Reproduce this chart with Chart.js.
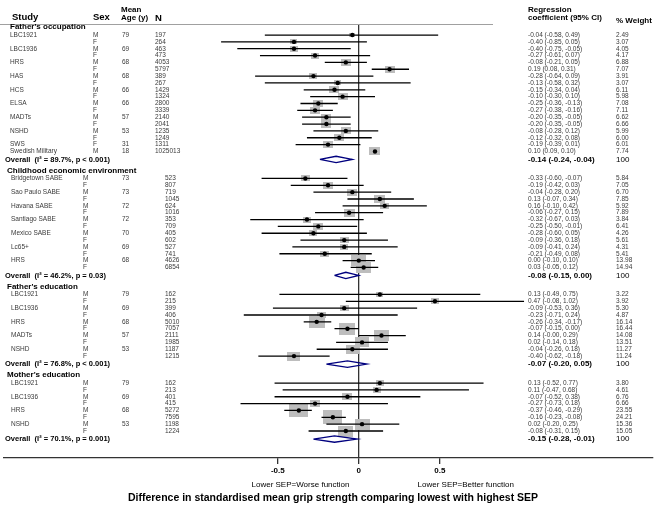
<!DOCTYPE html>
<html lang="en">
<head>
<meta charset="UTF-8" />
<title>Grip strength and childhood SEP</title>
<script src="https://cdn.jsdelivr.net/npm/chart.js"></script>
<style>
  body { margin: 0; background: #fff; }
  #wrap { width: 661px; height: 507px; }
</style>
</head>
<body>
<div id="wrap"><canvas id="forest" width="661" height="507"></canvas></div>
<script>
// subgroups
const groupTitles = ["Father's occupation", "Childhood economic environment", "Father's education", "Mother's education"];
const groupSizes = [18, 14, 10, 8];
const overallLabels = [
  'Overall  (I\u00b2 = 89.7%, p < 0.001)',
  'Overall  (I\u00b2 = 46.2%, p = 0.03)',
  'Overall  (I\u00b2 = 76.8%, p < 0.001)',
  'Overall  (I\u00b2 = 70.1%, p = 0.001)'
];
const overallEst = [-0.14, -0.08, -0.07, -0.15];
const overallLo = [-0.24, -0.15, -0.20, -0.28];
const overallHi = [-0.04, 0.00, 0.05, -0.01];

// study rows, in order
const studies = [
  'LBC1921', '', 'LBC1936', '', 'HRS', '', 'HAS', '', 'HCS', '', 'ELSA', '', 'MADTs', '', 'NSHD', '', 'SWS', 'Swedish Military',
  'Bridgetown SABE', '', 'Sao Paulo SABE', '', 'Havana SABE', '', 'Santiago SABE', '', 'Mexico SABE', '', 'Lc65+', '', 'HRS', '',
  'LBC1921', '', 'LBC1936', '', 'HRS', '', 'MADTs', '', 'NSHD', '',
  'LBC1921', '', 'LBC1936', '', 'HRS', '', 'NSHD', ''
];
const sexes = [
  'M','F','M','F','M','F','M','F','M','F','M','F','M','F','M','F','F','M',
  'M','F','M','F','M','F','M','F','M','F','M','F','M','F',
  'M','F','M','F','M','F','M','F','M','F',
  'M','F','M','F','M','F','M','F'
];
const ages = [
  '79','','69','','68','','68','','66','','66','','57','','53','','31','18',
  '73','','73','','72','','72','','70','','69','','68','',
  '79','','69','','68','','57','','53','',
  '79','','69','','68','','53',''
];
const ns = [
  197, 264, 463, 473, 4053, 5797, 389, 267, 1429, 1324, 2800, 3339, 2140, 2041, 1235, 1249, 1311, 1025013,
  523, 807, 719, 1045, 624, 1016, 353, 709, 405, 602, 527, 741, 4626, 6854,
  162, 215, 399, 406, 5010, 7057, 2111, 1985, 1187, 1215,
  162, 213, 401, 415, 5272, 7595, 1198, 1224
];
const estimates = [
  -0.04, -0.40, -0.40, -0.27, -0.08, 0.19, -0.28, -0.13, -0.15, -0.10, -0.25, -0.27, -0.20, -0.20, -0.08, -0.12, -0.19, 0.10,
  -0.33, -0.19, -0.04, 0.13, 0.16, -0.06, -0.32, -0.25, -0.28, -0.09, -0.09, -0.21, 0.00, 0.03,
  0.13, 0.47, -0.09, -0.23, -0.26, -0.07, 0.14, 0.02, -0.04, -0.40,
  0.13, 0.11, -0.07, -0.27, -0.37, -0.16, 0.02, -0.08
];
const lowers = [
  -0.58, -0.85, -0.75, -0.61, -0.21, 0.08, -0.64, -0.58, -0.34, -0.30, -0.36, -0.38, -0.35, -0.35, -0.28, -0.32, -0.39, 0.09,
  -0.60, -0.42, -0.28, -0.07, -0.10, -0.27, -0.67, -0.50, -0.60, -0.36, -0.41, -0.49, -0.10, -0.05,
  -0.49, -0.08, -0.53, -0.71, -0.34, -0.15, -0.00, -0.14, -0.26, -0.62,
  -0.52, -0.47, -0.52, -0.73, -0.46, -0.23, -0.20, -0.31
];
const uppers = [
  0.49, 0.05, -0.05, 0.07, 0.05, 0.31, 0.09, 0.32, 0.04, 0.10, -0.13, -0.16, -0.05, -0.05, 0.12, 0.08, 0.01, 0.10,
  -0.07, 0.03, 0.20, 0.34, 0.42, 0.15, 0.03, -0.01, 0.05, 0.18, 0.24, 0.08, 0.10, 0.12,
  0.75, 1.02, 0.36, 0.24, -0.17, 0.00, 0.29, 0.18, 0.18, -0.18,
  0.77, 0.68, 0.38, 0.18, -0.29, -0.08, 0.25, 0.15
];
const weights = [
  2.49, 3.07, 4.05, 4.17, 6.88, 7.07, 3.91, 3.07, 6.11, 5.98, 7.08, 7.11, 6.62, 6.66, 5.99, 6.00, 6.01, 7.74,
  5.84, 7.05, 6.70, 7.85, 5.92, 7.89, 3.84, 6.41, 4.26, 5.61, 4.31, 5.41, 13.98, 14.94,
  3.22, 3.92, 5.30, 4.87, 16.14, 16.44, 14.08, 13.51, 11.27, 11.24,
  3.80, 4.61, 6.76, 6.66, 23.55, 24.21, 15.36, 15.05
];

const xTicks = [-0.5, 0, 0.5];
const xTickLabels = ['-0.5', '0', '0.5'];
const sideLabels = ['Lower SEP=Worse function', 'Lower SEP=Better function'];
const axisTitle = 'Difference in standardised mean grip strength comparing lowest with highest SEP';

const FONT = '"Liberation Sans", Arial, sans-serif';

// row slots (one unit per study row, gaps between subgroups)
const rowSlot = [], rowGroup = [], headerSlot = [], overallSlot = [];
let cursor = 0;
groupSizes.forEach((n, gi) => {
  headerSlot.push(cursor - 1.15);
  for (let i = 0; i < n; i++) { rowSlot.push(cursor + i); rowGroup.push(gi); }
  const last = cursor + n - 1;
  overallSlot.push(last + 1.17);
  cursor = last + 3.94;
});

const fmt = v => (v < 0 || Object.is(v, -0)) ? '-' + Math.abs(v).toFixed(2) : v.toFixed(2);
const ciText = (e, l, h) => fmt(e) + ' (' + fmt(l) + ', ' + fmt(h) + ')';

const pointData = estimates.map((e, i) => ({ x: e, y: rowSlot[i] }));
const ciData = [];
estimates.forEach((e, i) => {
  ciData.push({ x: lowers[i], y: rowSlot[i] }, { x: uppers[i], y: rowSlot[i] }, { x: null, y: null });
});
const diamondData = [];
overallEst.forEach((e, gi) => {
  const s = overallSlot[gi];
  diamondData.push(
    { x: overallLo[gi], y: s }, { x: e, y: s - 0.47 }, { x: overallHi[gi], y: s },
    { x: e, y: s + 0.47 }, { x: overallLo[gi], y: s }, { x: null, y: null }
  );
});

// grey weight boxes, area ~ weight
const boxes = weights.map(w => {
  const c = document.createElement('canvas');
  c.width = Math.max(3, Math.round(3.9 * Math.sqrt(w)));
  c.height = Math.max(3, Math.round(0.72 * c.width));
  const g = c.getContext('2d');
  g.fillStyle = '#bdbdbd';
  g.fillRect(0, 0, c.width, c.height);
  return c;
});

const textPlugin = {
  id: 'forestText',
  afterDraw(chart) {
    const { ctx, chartArea, scales: { x, y } } = chart;
    const py = v => y.getPixelForValue(v);
    ctx.save();
    ctx.strokeStyle = '#a0a0a0';
    ctx.lineWidth = 1;
    ctx.beginPath();
    ctx.moveTo(0, chartArea.top + 0.5);
    ctx.lineTo(493, chartArea.top + 0.5);
    ctx.stroke();

    ctx.textBaseline = 'middle';
    ctx.textAlign = 'left';
    ctx.fillStyle = '#000';
    ctx.font = 'bold 9.5px ' + FONT;
    ctx.fillText('Study', 12, 17.5);
    ctx.fillText('Sex', 93, 17.5);
    ctx.fillText('N', 155, 18.5);
    ctx.font = 'bold 8px ' + FONT;
    ctx.fillText('Mean', 121, 10);
    ctx.fillText('Age (y)', 121, 17.5);
    ctx.fillText('Regression', 528, 9.5);
    ctx.fillText('coefficient (95% CI)', 528, 17.5);
    ctx.fillText('% Weight', 616, 21);

    groupTitles.forEach((t, gi) => {
      ctx.fillStyle = '#000';
      ctx.font = 'bold 8px ' + FONT;
      ctx.fillText(t, gi === 0 ? 10 : 7, py(headerSlot[gi]));
      const oy = py(overallSlot[gi]);
      ctx.font = 'bold 7.5px ' + FONT;
      ctx.fillText(overallLabels[gi], 5, oy);
      ctx.font = 'bold 8px ' + FONT;
      ctx.fillText(ciText(overallEst[gi], overallLo[gi], overallHi[gi]), 528, oy);
      ctx.font = '8px ' + FONT;
      ctx.fillText('100', 616, oy);
    });

    ctx.font = '6.5px ' + FONT;
    ctx.fillStyle = '#3a3a3a';
    rowSlot.forEach((s, i) => {
      const ry = py(s);
      const g0 = rowGroup[i] === 0;
      ctx.fillText(studies[i], g0 ? 10 : 11, ry);
      ctx.fillText(sexes[i], g0 ? 93 : 83, ry);
      ctx.fillText(ages[i], 122, ry);
      ctx.fillText(String(ns[i]), g0 ? 155 : 165, ry);
      ctx.fillText(ciText(estimates[i], lowers[i], uppers[i]), 528, ry);
      ctx.fillText(weights[i].toFixed(2), 616, ry);
    });

    ctx.textAlign = 'center';
    ctx.fillStyle = '#000';
    ctx.font = '8px ' + FONT;
    ctx.fillText(sideLabels[0], x.getPixelForValue(-0.36), chartArea.bottom + 27);
    ctx.fillText(sideLabels[1], x.getPixelForValue(0.66), chartArea.bottom + 27);
    ctx.font = 'bold 10.5px ' + FONT;
    ctx.fillText(axisTitle, 333, chartArea.bottom + 40);
    ctx.restore();
  }
};

new Chart(document.getElementById('forest'), {
  type: 'scatter',
  data: {
    datasets: [
      { label: 'estimate', data: pointData, pointRadius: 2.2, pointHoverRadius: 2.2, backgroundColor: '#000', borderWidth: 0 },
      { label: 'ci', data: ciData, showLine: true, spanGaps: false, borderColor: '#000', borderWidth: 1.3, pointRadius: 0 },
      { label: 'overall', data: diamondData, showLine: true, spanGaps: false, borderColor: '#00007f', borderWidth: 1.3, pointRadius: 0 },
      { label: 'weight', data: pointData, pointStyle: ctx => boxes[ctx.dataIndex], pointRadius: 3, borderWidth: 0 }
    ]
  },
  options: {
    responsive: false,
    animation: false,
    layout: { padding: { top: 24, left: 0, right: 8, bottom: 0 } },
    plugins: { legend: { display: false }, tooltip: { enabled: false } },
    scales: {
      x: {
        type: 'linear',
        min: -2.19,
        max: 1.816,
        afterBuildTicks: s => { s.ticks = xTicks.map(v => ({ value: v })); },
        afterFit: s => { s.height = 49; },
        grid: {
          color: c => (c.tick && c.tick.value === 0) ? '#333' : 'rgba(0,0,0,0)',
          lineWidth: 1.3,
          tickColor: '#333',
          tickLength: 6
        },
        border: { display: true, color: '#333', width: 1.3 },
        ticks: {
          color: '#000',
          padding: 2,
          font: { family: FONT, size: 8, weight: 'bold' },
          callback: (v, i) => xTickLabels[i]
        }
      },
      y: {
        type: 'linear',
        reverse: true,
        display: false,
        min: rowSlot[0] - 1.61,
        max: rowSlot[rowSlot.length - 1] + 3.94
      }
    }
  },
  plugins: [textPlugin]
});
</script>
</body>
</html>
